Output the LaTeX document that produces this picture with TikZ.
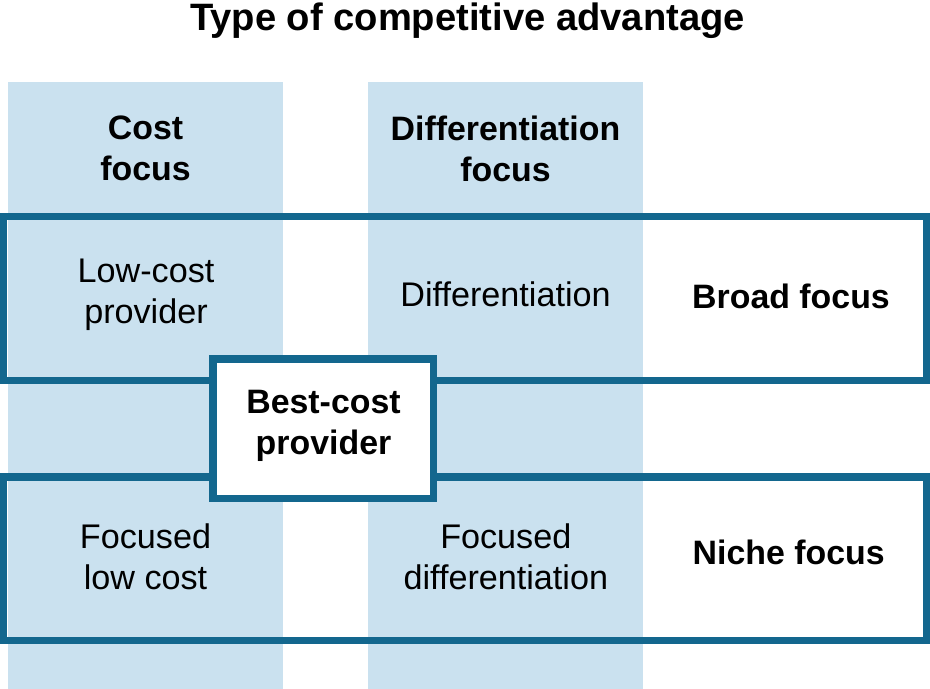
\documentclass[tikz,border=0pt]{standalone}
\usepackage{fontspec}
\setmainfont{Liberation Sans}
\definecolor{colfill}{HTML}{CAE1EF}
\definecolor{framec}{HTML}{13678E}
\begin{document}
\begin{tikzpicture}[x=1bp,y=-1bp,
  colbox/.style={fill=colfill, draw=none},
  band/.style={draw=framec, line width=7.5bp},
  lbl/.style={align=center, inner sep=0pt, font=\fontsize{34.3}{41}\selectfont},
  blbl/.style={align=center, inner sep=0pt, font=\fontsize{34}{41}\selectfont\bfseries},
]
\useasboundingbox (0,0) rectangle (930,689);
\fill[white] (0,0) rectangle (930,689);
% columns
\fill[colbox] (8,82) rectangle (283,689);
\fill[colbox] (368,82) rectangle (643,689);
% rows
\draw[band] (3.7,216.3) rectangle (927,380.3);
\draw[band] (3.7,477) rectangle (927,640.7);
% best-cost box
\node[draw=framec, line width=7.5bp, fill=white, minimum width=220.5bp, minimum height=139.5bp, inner sep=0pt] (bcbox) at (323.4,428.75) {};
% title
\node[inner sep=0pt, font=\fontsize{38.3}{46}\selectfont\bfseries] (title) at (467.5,21) {Type of competitive advantage};
% column headers
\node[blbl] (cost) at (145.5,148.5) {Cost\\focus};
\node[blbl] (diff) at (505.5,148.5) {Differentiation\\focus};
% cells
\node[lbl] (lowcost) at (146,295) {Low-cost\\provider};
\node[lbl] (differentiation) at (505.5,293.8) {Differentiation};
\node[blbl] (broad) at (791,296) {Broad focus};
\node[blbl] (bestcost) at (323.5,426) {Best-cost\\provider};
\node[lbl] (foclow) at (145.5,556.5) {Focused\\low cost};
\node[lbl] (focdiff) at (505.8,556.5) {Focused\\differentiation};
\node[blbl] (niche) at (788.7,552) {Niche focus};
\end{tikzpicture}
\end{document}
